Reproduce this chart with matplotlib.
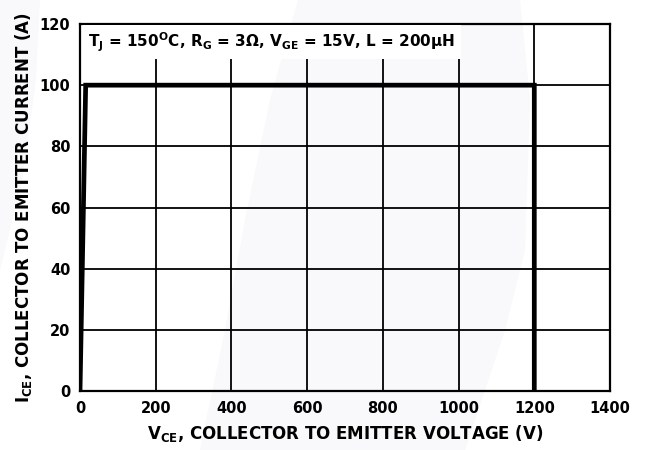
import matplotlib
matplotlib.use("Agg")
import matplotlib.pyplot as plt
from matplotlib.patches import Polygon

plt.rcParams['font.family'] = ['DejaVu Sans']
plt.rcParams['mathtext.fontset'] = 'custom'
plt.rcParams['mathtext.rm'] = 'DejaVu Sans:bold'
plt.rcParams['mathtext.bf'] = 'DejaVu Sans:bold'
plt.rcParams['mathtext.it'] = 'DejaVu Sans:bold'
plt.rcParams['mathtext.default'] = 'bf'

# Data
vce = [0, 15, 1200, 1200]
ice = [0, 100, 100, 0]
xticks = [0, 200, 400, 600, 800, 1000, 1200, 1400]
yticks = [0, 20, 40, 60, 80, 100, 120]

W, H = 649, 450
fig = plt.figure(figsize=(W / 100, H / 100), dpi=100)
fig.patch.set_facecolor('white')

# faint background watermark (pixel coords)
bg = fig.add_axes([0, 0, 1, 1], zorder=-1)
bg.set_xlim(0, W)
bg.set_ylim(H, 0)
bg.axis('off')
band = [(298, 0), (520, 0), (530, 100), (525, 250), (505, 330), (465, 450),
        (200, 450), (225, 330), (245, 220), (270, 100)]
left = [(0, 0), (40, 0), (36, 80), (22, 180), (0, 270)]
for pts in (band, left):
    bg.add_patch(Polygon(pts, closed=True, facecolor='#f9f8fa', edgecolor='none'))

ax = fig.add_axes([80 / W, 59 / H, 530 / W, 367 / H])
ax.set_facecolor('none')
ax.set_xlim(0, 1400)
ax.set_ylim(0, 120)
ax.set_xticks(xticks)
ax.set_yticks(yticks)
ax.set_xticklabels([str(t) for t in xticks], fontweight='bold', fontsize=10.5)
ax.set_yticklabels([str(t) for t in yticks], fontweight='bold', fontsize=10.5)
ax.tick_params(length=0, pad=7)
ax.grid(True, color='black', linewidth=1.3)
for s in ax.spines.values():
    s.set_linewidth(1.6)

ax.plot(vce, ice, color='black', linewidth=3.4, solid_joinstyle='miter', zorder=3)

ax.text(0.016, 0.982, r'T$_\mathbf{J}$ = 150$^\mathbf{O}$C, R$_\mathbf{G}$ = 3$\Omega$, V$_\mathbf{GE}$ = 15V, L = 200$\mu$H',
        transform=ax.transAxes, fontsize=11, fontweight='bold', va='top', ha='left',
        bbox=dict(facecolor='white', edgecolor='none', pad=4), zorder=4)

ax.set_xlabel(r'V$_\mathbf{CE}$, COLLECTOR TO EMITTER VOLTAGE (V)', fontsize=12, fontweight='bold', labelpad=5)
ax.set_ylabel(r'I$_\mathbf{CE}$, COLLECTOR TO EMITTER CURRENT (A)', fontsize=12, fontweight='bold', labelpad=4)

fig.savefig('out.png', dpi=100)
